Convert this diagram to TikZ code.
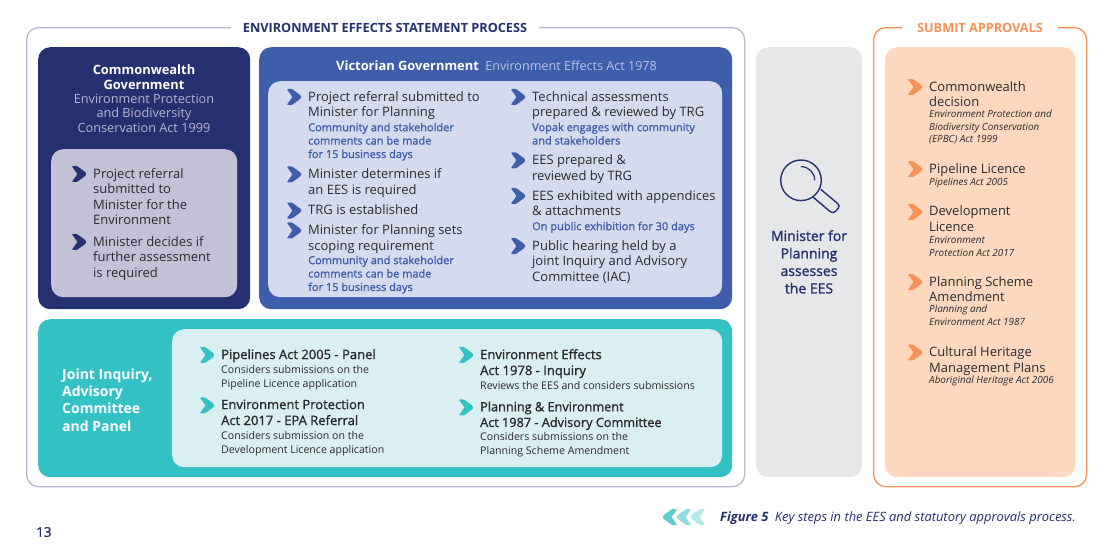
\documentclass[tikz,border=0pt]{standalone}
\usepackage{fontspec}
\setmainfont{Open Sans}
\newfontfamily\semifont[FakeBold=1.3]{Open Sans}
\usetikzlibrary{positioning}
\definecolor{navy}{HTML}{243070}
\definecolor{vicblue}{HTML}{3E5EAB}
\definecolor{teal}{HTML}{34C1C3}
\definecolor{amber}{HTML}{F79256}
\definecolor{ink}{HTML}{2B2B2E}
\definecolor{frameline}{HTML}{B9B7D5}
\definecolor{cwbg}{HTML}{C3C1D8}
\definecolor{vicbg}{HTML}{D5DBEF}
\definecolor{tealbg}{HTML}{DAEFF2}
\definecolor{greybg}{HTML}{E6E7E9}
\definecolor{amberbg}{HTML}{FDD7BE}
\definecolor{cwsub}{HTML}{B5B6D3}
\definecolor{vicsub}{HTML}{B9C4E3}

\begin{document}
\begin{tikzpicture}[x=1pt,y=-1pt,
  panel/.style={rounded corners=12pt,inner sep=0pt,anchor=north west},
  frame/.style={panel,line width=1.3pt,fill=white},
  head/.style={font=\fontsize{12.7}{15}\selectfont\bfseries,fill=white,inner ysep=2pt,inner xsep=12pt},
  item/.style={font=\fontsize{13}{15.7}\selectfont,text=ink,align=left,inner sep=0pt,anchor=north west},
  note/.style={item,font=\fontsize{11}{13.4}\semifont,text=vicblue},
  actitem/.style={item,font=\fontsize{13}{15.9}\semifont},
  actnote/.style={item,font=\fontsize{10.6}{14}\selectfont},
  legal/.style={item,font=\fontsize{9.9}{12.3}\selectfont\itshape},
  chev/.pic={\fill[pic actions,rounded corners=1pt] (-21.3,-2) -- (-16,-2) -- (-7,4.6) -- (-7,7.4) -- (-16,14)
     -- (-21.3,14) -- (-15.5,6) -- cycle;}]
\useasboundingbox (0,0) rectangle (1112,545);

\node[frame,draw=frameline,minimum width=718pt,minimum height=459pt] (essframe) at (26,27) {};
\node[frame,draw=amber,minimum width=213pt,minimum height=459pt] (apframe) at (873,27) {};
\node[head,text=navy] (esstitle) at (385,27.7) {ENVIRONMENT EFFECTS STATEMENT PROCESS};
\node[head,text=amber,inner xsep=15.5pt] (aptitle) at (980,27.7) {SUBMIT APPROVALS};

\node[panel,fill=navy,minimum width=212pt,minimum height=262pt] (cwbox) at (38,47) {};
\node[panel,fill=cwbg,minimum width=186pt,minimum height=148pt] (cwinner) at (51,149) {};
\node[panel,fill=vicblue,minimum width=473pt,minimum height=262pt] (vicbox) at (259,47) {};
\node[panel,fill=vicbg,minimum width=454pt,minimum height=216pt] (vicinner) at (268,81) {};
\node[panel,fill=teal,minimum width=694pt,minimum height=158pt] (tealbox) at (38,319) {};
\node[panel,fill=tealbg,minimum width=550pt,minimum height=138pt] (tealinner) at (172,329) {};
\node[panel,fill=greybg,minimum width=106pt,minimum height=430pt] (greybox) at (756,47) {};
\node[panel,fill=amberbg,minimum width=190pt,minimum height=430pt] (apbox) at (885,47) {};

% commonwealth
\node[inner sep=0pt,align=center,text=white,font=\fontsize{12.9}{15}\selectfont\bfseries,anchor=north] (cwhead) at (144,65)
  {Commonwealth\\Government};
\node[inner sep=0pt,align=center,text=cwsub,font=\fontsize{12.7}{14.6}\selectfont,below=3.5pt of cwhead] (cwact)
  {Environment Protection\\and Biodiversity\\Conservation Act 1999};
\node[item,font=\fontsize{13}{15.5}\selectfont] (cwa) at (93,168) {Project referral\\submitted to\\Minister for the\\Environment};
\node[item,below=11pt of cwa.south west,anchor=north west,font=\fontsize{13}{15.5}\selectfont] (cwb) {Minister decides if\\further assessment\\is required};
\pic[fill=navy] at (cwa.north west) {chev};
\pic[fill=navy] at (cwb.north west) {chev};

% victoria
\node[inner sep=0pt,text=white,font=\fontsize{12.9}{15}\selectfont\bfseries,anchor=west] (vichead) at (336,66) {Victorian Government};
\node[inner sep=0pt,text=vicsub,font=\fontsize{12.6}{15}\selectfont,right=6pt of vichead.east,anchor=west] (vicact) {Environment Effects Act 1978};
\node[item] (vica) at (308,91) {Project referral submitted to\\Minister for Planning};
\node[note,below=2.5pt of vica.south west,anchor=north west] (vicanote) {Community and stakeholder\\comments can be made\\for 15 business days};
\node[item,below=7.5pt of vicanote.south west,anchor=north west] (vicb) {Minister determines if\\an EES is required};
\node[item,below=7pt of vicb.south west,anchor=north west] (vicc) {TRG is established};
\node[item,below=9.5pt of vicc.south west,anchor=north west] (vicd) {Minister for Planning sets\\scoping requirement};
\node[note,below=2pt of vicd.south west,anchor=north west] (vicdnote) {Community and stakeholder\\comments can be made\\for 15 business days};
\node[item] (vice) at (532,91) {Technical assessments\\prepared \& reviewed by TRG};
\node[note,below=2.5pt of vice.south west,anchor=north west] (vicenote) {Vopak engages with community\\and stakeholders};
\node[item,below=9.5pt of vicenote.south west,anchor=north west] (vicf) {EES prepared \&\\reviewed by TRG};
\node[item,below=6.5pt of vicf.south west,anchor=north west] (vicg) {EES exhibited with appendices\\\& attachments};
\node[note,below=5.5pt of vicg.south west,anchor=north west] (vicgnote) {On public exhibition for 30 days};
\node[item,below=7pt of vicgnote.south west,anchor=north west] (vich) {Public hearing held by a\\joint Inquiry and Advisory\\Committee (IAC)};
\foreach \n in {vica,vicb,vicc,vicd,vice,vicf,vicg,vich}{
  \pic[fill=vicblue] at (\n.north west) {chev};
}

% panel
\node[inner sep=0pt,align=left,text=white,font=\fontsize{14}{17.3}\selectfont\bfseries,anchor=west] (teallabel) at (62,400)
  {Joint Inquiry,\\Advisory\\Committee\\and Panel};
\node[actitem] (pipe) at (221,349) {Pipelines Act 2005 - Panel};
\node[actnote,below=3pt of pipe.south west,anchor=north west] (pipenote) {Considers submissions on the\\Pipeline Licence application};
\node[actitem,below=9pt of pipenote.south west,anchor=north west] (epa) {Environment Protection\\Act 2017 - EPA Referral};
\node[actnote,below=6pt of epa.south west,anchor=north west] (epanote) {Considers submission on the\\Development Licence application};
\node[actitem] (eff) at (480,349) {Environment Effects\\Act 1978 - Inquiry};
\node[actnote,below=3pt of eff.south west,anchor=north west] (effnote) {Reviews the EES and considers submissions};
\node[actitem,below=11.5pt of effnote.south west,anchor=north west,font=\fontsize{12.7}{15.7}\semifont] (plan) {Planning \& Environment\\Act 1987 - Advisory Committee};
\node[actnote,below=2pt of plan.south west,anchor=north west] (plannote) {Considers submissions on the\\Planning Scheme Amendment};
\foreach \n in {pipe,epa,eff,plan}{
  \pic[fill=teal] at (\n.north west) {chev};
}

% minister
\draw[navy,line width=1.4pt] (801,180.3) circle[radius=20.3];
\draw[navy,line width=1.2pt] (801,166.6) arc[start angle=-90,end angle=0,radius=13.7];
\draw[navy,line width=1.4pt,rounded corners=3.5pt] (813.3,197.3) -- (833,214) -- (840.5,206) -- (820.7,189.3);
\node[inner sep=0pt,align=center,text=navy,font=\fontsize{14}{17.5}\semifont,anchor=north] (minister) at (809,230)
  {Minister for\\Planning\\assesses\\the EES};

% approvals
\node[item] (apa) at (929,81) {Commonwealth\\decision};
\node[legal,below=3pt of apa.south west,anchor=north west] (apanote) {Environment Protection and\\Biodiversity Conservation\\(EPBC) Act 1999};
\node[item,below=19pt of apanote.south west,anchor=north west] (apb) {Pipeline Licence};
\node[legal,below=1.5pt of apb.south west,anchor=north west] (apbnote) {Pipelines Act 2005};
\node[item,below=17.5pt of apbnote.south west,anchor=north west] (apc) {Development\\Licence};
\node[legal,below=4.5pt of apc.south west,anchor=north west] (apcnote) {Environment\\Protection Act 2017};
\node[item,below=19.5pt of apcnote.south west,anchor=north west] (apd) {Planning Scheme\\Amendment};
\node[legal,below=3pt of apd.south west,anchor=north west] (apdnote) {Planning and\\Environment Act 1987};
\node[item,below=21pt of apdnote.south west,anchor=north west] (ape) {Cultural Heritage\\Management Plans};
\node[legal,below=0.5pt of ape.south west,anchor=north west] (apenote) {Aboriginal Heritage Act 2006};
\foreach \n in {apa,apb,apc,apd,ape}{
  \pic[fill=amber] at (\n.north west) {chev};
}

% footer
\node[inner sep=0pt,text=navy,font=\fontsize{13.5}{16}\semifont,anchor=west] (pageno) at (36,532) {13};
\node[inner sep=0pt,text=navy,font=\fontsize{12.9}{15}\selectfont\itshape,anchor=east] (caption) at (1076,518)
  {\textbf{Figure 5}\enspace Key steps in the EES and statutory approvals process.};
\pic[fill=teal!35,xscale=-1] at (684,511) {chev};
\pic[fill=teal!55,xscale=-1] at (670,511) {chev};
\pic[fill=teal!80,xscale=-1] at (656,511) {chev};
\end{tikzpicture}
\end{document}
